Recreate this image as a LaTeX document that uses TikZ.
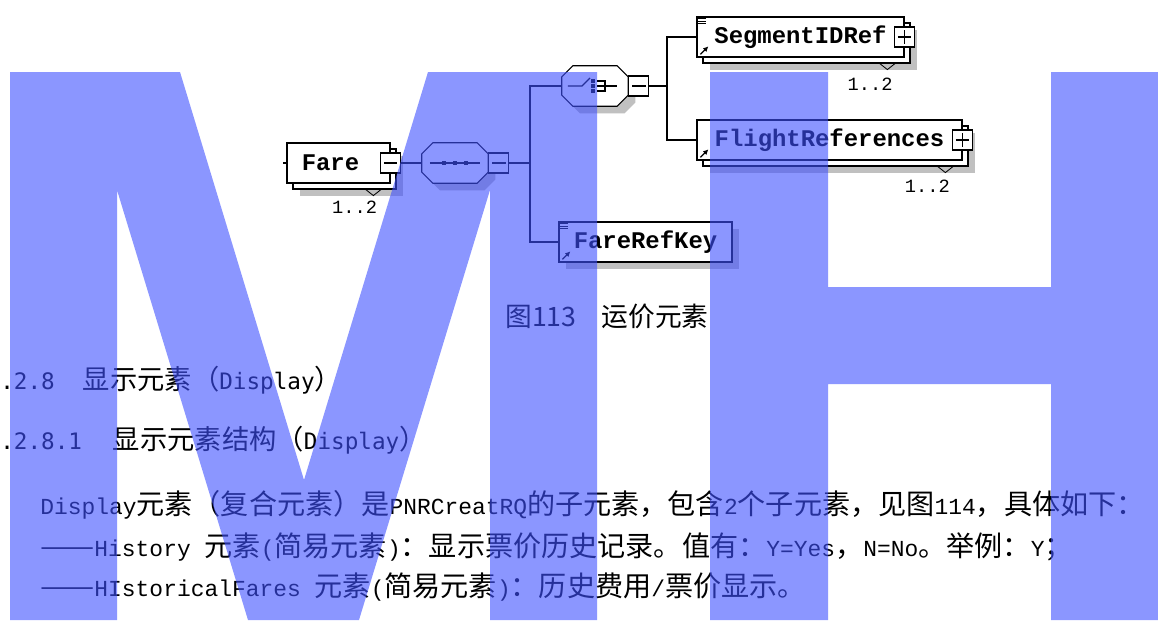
\documentclass[tikz,border=0pt]{standalone}
\usepackage{fontspec}
\usepackage{tikz}
\usetikzlibrary{shadows,arrows.meta,positioning,calc}
\newfontfamily\cjkfont{Noto Sans CJK SC}
\newfontfamily\spyfont{Liberation Mono}
\newfontfamily\headlat{DejaVu Sans Mono}
\newfontfamily\bodylat{Liberation Mono}
\definecolor{wmblue}{RGB}{63,80,255}
\definecolor{spyshadow}{RGB}{192,192,192}
\newcommand\hl[1]{{\headlat\fontsize{16.1}{18}\selectfont #1}}
\newcommand\bl[1]{{\bodylat\fontsize{16.3}{18}\selectfont #1}}

\begin{document}
\begin{tikzpicture}[x=0.025cm,y=-0.025cm,
    spyline/.style={line width=0.8pt},
    elem/.style={rectangle,draw,fill=white,line width=0.8pt,inner sep=0pt,minimum height=1cm,
      font=\spyfont\bfseries\fontsize{17}{17}\selectfont},
    multi/.style={general shadow={shadow xshift=0.33cm,shadow yshift=-0.33cm,fill=spyshadow},
      general shadow={shadow xshift=0.15cm,shadow yshift=-0.15cm,fill=white,draw=black}},
    single/.style={general shadow={shadow xshift=0.18cm,shadow yshift=-0.18cm,fill=spyshadow}},
    compositor/.style={rectangle,minimum width=1.65cm,minimum height=1cm,inner sep=0pt},
    button/.style={rectangle,draw,fill=white,line width=0.8pt,minimum size=0.5cm,inner sep=0pt},
    minusbtn/.style={button,path picture={\draw[line width=0.8pt]
      ([xshift=-0.17cm]path picture bounding box.center) -- ([xshift=0.17cm]path picture bounding box.center);}},
    plusbtn/.style={button,path picture={\draw[line width=0.8pt]
      ([xshift=-0.17cm]path picture bounding box.center) -- ([xshift=0.17cm]path picture bounding box.center)
      ([yshift=-0.17cm]path picture bounding box.center) -- ([yshift=0.17cm]path picture bounding box.center);}},
    card/.style={inner sep=0pt,font=\spyfont\fontsize{13.3}{14}\selectfont},
    textline/.style={anchor=west,inner sep=0pt}]
  \fill[white] (0,0) rectangle (1158,620);
  \useasboundingbox (0,0) rectangle (1158,620);

  % schema elements
  \node[elem,multi,minimum width=2.575cm] (fare) at (338.5,163) {Fare\rule{0.4cm}{0pt}};
  \node[compositor] (seq) at (455,163) {};
  \node[compositor] (choice) at (595,86) {};
  \node[elem,multi,minimum width=5.175cm] (segref) at (800.5,37) {SegmentIDRef};
  \node[elem,multi,minimum width=6.625cm] (flightref) at (829.5,140) {FlightReferences};
  \node[elem,single,minimum width=4.325cm] (farekey) at (645.5,242) {FareRefKey};

  % compositor outlines
  \foreach \c in {seq,choice} {
    \fill[spyshadow,transform canvas={shift={(0.18cm,-0.18cm)}}]
      ([xshift=0.28cm]\c.north west) -- ([xshift=-0.28cm]\c.north east) -- ([yshift=-0.28cm]\c.north east)
      -- ([yshift=0.28cm]\c.south east) -- ([xshift=-0.28cm]\c.south east) -- ([xshift=0.28cm]\c.south west)
      -- ([yshift=0.28cm]\c.south west) -- ([yshift=-0.28cm]\c.north west) -- cycle;
    \draw[spyline,fill=white]
      ([xshift=0.28cm]\c.north west) -- ([xshift=-0.28cm]\c.north east) -- ([yshift=-0.28cm]\c.north east)
      -- ([yshift=0.28cm]\c.south east) -- ([xshift=-0.28cm]\c.south east) -- ([xshift=0.28cm]\c.south west)
      -- ([yshift=0.28cm]\c.south west) -- ([yshift=-0.28cm]\c.north west) -- cycle;
  }

  \node[minusbtn] (farebtn) at (fare.east) {};
  \node[minusbtn,anchor=west] (seqbtn) at (seq.east) {};
  \node[minusbtn,anchor=west] (choicebtn) at (choice.east) {};
  \node[plusbtn] (segbtn) at (segref.east) {};
  \node[plusbtn] (flightbtn) at (flightref.east) {};

  % occurrence marks
  \foreach \e in {fare,segref,flightref}
    \draw[line width=0.6pt] ([xshift=-0.62cm,yshift=-0.15cm]\e.south east) -- ++(0.19cm,-0.15cm) -- ++(0.19cm,0.15cm);
  \node[card] (farecard) at ([xshift=-0.9cm,yshift=-0.6cm]fare.south east) {1..2};
  \node[card] (segcard) at ([xshift=-0.86cm,yshift=-0.67cm]segref.south east) {1..2};
  \node[card] (flightcard) at ([xshift=-0.88cm,yshift=-0.65cm]flightref.south east) {1..2};

  % icons
  \foreach \e in {segref,farekey}
    \foreach \d in {0.06,0.12,0.18}
      \draw[line width=0.5pt] ([xshift=0.05cm,yshift=-\d cm]\e.north west) -- ++(0.2cm,0);
  \foreach \e in {segref,flightref,farekey}
    \draw[line width=0.9pt,-{Latex[length=0.13cm,width=0.13cm]}] ([xshift=0.1cm,yshift=0.08cm]\e.south west) -- ++(0.2cm,0.2cm);

  % sequence symbol
  \draw[spyline] ([xshift=-0.625cm]seq.center) -- ([xshift=0.625cm]seq.center);
  \foreach \s in {-0.275,0,0.275}
    \fill ([xshift=\s cm]seq.center) +(-0.06cm,-0.06cm) rectangle +(0.06cm,0.06cm);
  % choice symbol
  \draw[spyline] ([xshift=-0.675cm]choice.center) -- ([xshift=-0.325cm]choice.center) -- ([xshift=-0.125cm,yshift=0.2cm]choice.center);
  \foreach \s in {-0.125,0,0.125}
    \fill ([xshift=-0.05cm,yshift=\s cm]choice.center) +(-0.05cm,-0.05cm) rectangle +(0.05cm,0.05cm);
  \draw[spyline] ([xshift=0.05cm,yshift=0.125cm]choice.center) -| ([xshift=0.25cm,yshift=-0.125cm]choice.center) -- ([xshift=0.05cm,yshift=-0.125cm]choice.center);
  \draw[spyline] ([xshift=0.05cm]choice.center) -- ([xshift=0.55cm]choice.center);

  % connectors
  \coordinate (farein) at (283,163);
  \coordinate (trunk1) at (530,163);
  \coordinate (trunk2) at (667,86);
  \draw[spyline] (farein) -- (fare.west);
  \draw[spyline] (farebtn.east) -- (seq.west);
  \draw[spyline] (seqbtn.east) -- (trunk1);
  \draw[spyline] (trunk1) |- (choice.west);
  \draw[spyline] (trunk1) |- (farekey.west);
  \draw[spyline] (choicebtn.east) -- (trunk2);
  \draw[spyline] (trunk2) |- (segref.west);
  \draw[spyline] (trunk2) |- (flightref.west);

  % caption, headings and body
  \node[textline,font=\cjkfont\fontsize{19}{20}\selectfont] (caption) at (505,316) {图113\hspace{18pt}运价元素};
  \node[textline,font=\cjkfont\fontsize{19.4}{20}\selectfont] (head1) at (0,380) {\hl{.2.8}\hspace{20pt}显示元素（\hl{Display}）};
  \node[textline,font=\cjkfont\fontsize{19.4}{20}\selectfont] (head2) at (0,440) {\hl{.2.8.1}\hspace{22pt}显示元素结构（\hl{Display}）};
  \node[textline,font=\cjkfont\fontsize{20}{21}\selectfont] (body1) at (40,505) {\bl{Display}元素（复合元素）是\bl{PNRCreatRQ}的子元素，包含\bl{2}个子元素，见图\bl{114}，具体如下：};
  \node[textline,font=\cjkfont\fontsize{20}{21}\selectfont] (body2) at (40,547) {\scalebox{1.15}[1]{——}\bl{History }元素\bl{(}简易元素\bl{)}：显示票价历史记录。值有：\bl{Y=Yes}，\bl{N=No}。举例：\bl{Y}；};
  \node[textline,font=\cjkfont\fontsize{20}{21}\selectfont] (body3) at (40,587) {\scalebox{1.15}[1]{——}\bl{HIstoricalFares }元素\bl{(}简易元素\bl{)}：历史费用\bl{/}票价显示。};

  % watermark
  \fill[wmblue,fill opacity=0.6]
    (10,72) -- (180,72) -- (304,480) -- (428,72) -- (597,72) -- (597,620) -- (490,620)
      -- (490,190) -- (359,620) -- (248,620) -- (117,190) -- (117,620) -- (10,620) -- cycle
    (710,72) rectangle (828,620)
    (1051,72) rectangle (1158,620)
    (828,287) rectangle (1051,384);
\end{tikzpicture}
\end{document}
